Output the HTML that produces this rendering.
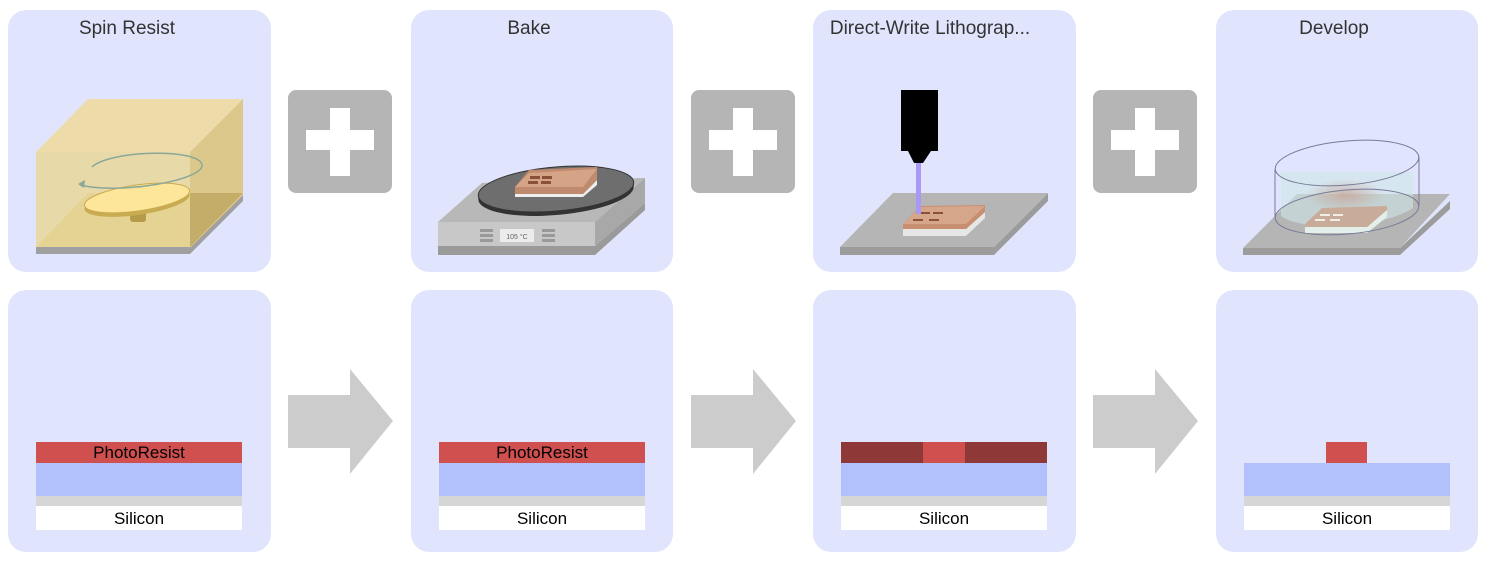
<!DOCTYPE html>
<html><head><meta charset="utf-8"><style>
html,body{margin:0;padding:0;background:#fff;width:1488px;height:561px;overflow:hidden}
svg{display:block}
text{font-family:"Liberation Sans","DejaVu Sans",sans-serif}
</style></head><body>
<svg width="1488" height="561" viewBox="0 0 1488 561">
<defs>
<radialGradient id="glow" cx="50%" cy="50%" r="50%"><stop offset="0" stop-color="#c8a090" stop-opacity="0.7"/><stop offset="1" stop-color="#c8a090" stop-opacity="0"/></radialGradient>
</defs>
<!-- panels -->
<g fill="#e0e5fd">
<rect x="8" y="10" width="263" height="262" rx="18"/>
<rect x="411" y="10" width="262" height="262" rx="18"/>
<rect x="813" y="10" width="263" height="262" rx="18"/>
<rect x="1216" y="10" width="262" height="262" rx="18"/>
<rect x="8" y="290" width="263" height="262" rx="18"/>
<rect x="411" y="290" width="262" height="262" rx="18"/>
<rect x="813" y="290" width="263" height="262" rx="18"/>
<rect x="1216" y="290" width="262" height="262" rx="18"/>
</g>
<g font-size="19" fill="#333" text-anchor="middle">
<text x="127" y="34">Spin Resist</text>
<text x="529" y="34">Bake</text>
<text x="930" y="34">Direct-Write Lithograp...</text>
<text x="1334" y="34">Develop</text>
</g>
<!-- plus boxes -->
<g>
<g transform="translate(288,90)"><rect width="104" height="103" rx="8" fill="#b5b5b5"/><rect x="18" y="40" width="68" height="20" fill="#fff"/><rect x="42" y="18" width="20" height="68" fill="#fff"/></g>
<g transform="translate(691,90)"><rect width="104" height="103" rx="8" fill="#b5b5b5"/><rect x="18" y="40" width="68" height="20" fill="#fff"/><rect x="42" y="18" width="20" height="68" fill="#fff"/></g>
<g transform="translate(1093,90)"><rect width="104" height="103" rx="8" fill="#b5b5b5"/><rect x="18" y="40" width="68" height="20" fill="#fff"/><rect x="42" y="18" width="20" height="68" fill="#fff"/></g>
</g>
<!-- arrows -->
<g fill="#cccccc">
<polygon points="288,395 350,395 350,369 393,421 350,474 350,448 288,448"/>
<polygon points="691,395 753,395 753,369 796,421 753,474 753,448 691,448"/>
<polygon points="1093,395 1155,395 1155,369 1198,421 1155,474 1155,448 1093,448"/>
</g>
<!-- spin illustration -->
<g>
<polygon points="36,247 190,247 243,195 243,201 190,254 36,254" fill="#a0a0a0"/>
<polygon points="36,247 88,193 243,193 190,247" fill="#d2bd72"/>
<polygon points="36,152 190,152 190,247 36,247" fill="#e9d79a" opacity="0.85"/>
<polygon points="36,152 88,99 243,99 190,152" fill="#eddcaa"/>
<polygon points="190,152 243,99 243,195 190,248" fill="#dcc88a"/>
<polygon points="190,193 243,193 190,247" fill="#c4ad68"/>
<rect x="130" y="206" width="16" height="16" rx="3" fill="#b59a4a"/>
<ellipse cx="137" cy="202" rx="53" ry="13" transform="rotate(-8 137 202)" fill="#c9ac52"/>
<ellipse cx="137" cy="198" rx="53" ry="13" transform="rotate(-8 137 198)" fill="#fde59a" stroke="#c9ac52"/>
<path d="M92,167 C110,150 200,148 202,165 C204,180 120,195 80,185" fill="none" stroke="#8aa898" stroke-width="1.5"/>
<polygon points="78,184 85,180 84,188" fill="#8aa898"/>
</g>
<!-- bake illustration -->
<g>
<polygon points="438,246 595,246 645,203 645,210 595,255 438,255" fill="#9a9a9a"/>
<polygon points="438,222 482,183 645,178 645,203 595,246 438,246" fill="#c5c5c5"/>
<polygon points="595,222 645,178 645,203 595,246" fill="#a8a8a8"/>
<polygon points="438,222 482,183 645,178 595,222" fill="#b8b8b8"/>
<rect x="438" y="222" width="157" height="24" fill="#c8c8c8"/>
<rect x="500" y="229" width="34" height="13" fill="#ececec"/>
<text x="517" y="239" font-size="7" fill="#666" text-anchor="middle">105 °C</text>
<g fill="#999"><rect x="480" y="229" width="13" height="3"/><rect x="480" y="234" width="13" height="3"/><rect x="480" y="239" width="13" height="3"/><rect x="542" y="229" width="13" height="3"/><rect x="542" y="234" width="13" height="3"/><rect x="542" y="239" width="13" height="3"/></g>
<ellipse cx="556" cy="193" rx="78" ry="22" transform="rotate(-5 556 193)" fill="#333"/>
<ellipse cx="556" cy="189" rx="78" ry="22" transform="rotate(-5 556 189)" fill="#6e6e6e" stroke="#333"/>
<polygon points="515,194 583,194 597,180 597,185 583,197 515,197" fill="#eee"/>
<polygon points="515,187 529,170 597,167 597,180 583,194 515,194" fill="#c08a6e"/>
<polygon points="515,187 529,173 597,169 583,187" fill="#d5a486"/>
<g fill="#8a5038"><rect x="530" y="176" width="10" height="3"/><rect x="542" y="176" width="10" height="3"/><rect x="528" y="181" width="10" height="3"/><rect x="541" y="181" width="10" height="3"/></g>
</g>
<!-- direct write illustration -->
<g>
<polygon points="840,247 994,247 1048,193 1048,201 994,255 840,255" fill="#9c9c9c"/>
<polygon points="840,247 893,193 1048,193 994,247" fill="#b5b5b5"/>
<polygon points="903,229 966,229 985,212 985,218 966,236 903,236" fill="#e6e6e6"/>
<polygon points="903,224 920,206 985,205 985,212 966,229 903,229" fill="#c88e70"/>
<polygon points="903,224 920,207 985,206 966,224" fill="#d6a68a"/>
<g fill="#8a5038"><rect x="920" y="212" width="10" height="2"/><rect x="933" y="212" width="10" height="2"/><rect x="913" y="219" width="10" height="2"/><rect x="929" y="219" width="10" height="2"/></g>
<rect x="916" y="160" width="5" height="54" fill="#a898f8"/>
<rect x="901" y="90" width="37" height="61" fill="#000"/>
<polygon points="908,151 931,151 923,163 914,163" fill="#000"/>
</g>
<!-- develop illustration -->
<g>
<polygon points="1243,248 1400,248 1450,201 1450,194 1450,209 1400,255 1243,255" fill="#9c9c9c"/>
<polygon points="1243,248 1297,194 1450,194 1400,248" fill="#b5b5b5"/>
<path d="M1281,172 L1281,216 A72,22 -5 0 0 1413,208 L1413,172 Z" fill="#cfe6ea" opacity="0.6"/>
<ellipse cx="1345" cy="195" rx="40" ry="16" fill="url(#glow)"/>
<polygon points="1305,227 1367,227 1387,210 1387,217 1367,233 1305,233" fill="#e2efea"/>
<polygon points="1305,224 1322,208 1387,206 1387,210 1367,227 1305,227" fill="#c8ab98"/>
<g fill="#f2eee6"><rect x="1320" y="214" width="10" height="2"/><rect x="1333" y="214" width="10" height="2"/><rect x="1315" y="219" width="10" height="2"/><rect x="1330" y="219" width="10" height="2"/></g>
<ellipse cx="1347" cy="212" rx="72" ry="22" transform="rotate(-5 1347 212)" fill="none" stroke="#777b95" stroke-width="1"/>
<ellipse cx="1347" cy="163" rx="72" ry="22" transform="rotate(-5 1347 163)" fill="none" stroke="#777b95" stroke-width="1"/>
<line x1="1275" y1="169" x2="1275" y2="218" stroke="#777b95"/>
<line x1="1419" y1="156" x2="1419" y2="206" stroke="#777b95"/>
</g>
<!-- cross sections -->
<g font-size="17" fill="#000" text-anchor="middle">
<g>
<rect x="36" y="442" width="206" height="21" fill="#d05050"/><text x="139" y="458">PhotoResist</text>
<rect x="36" y="463" width="206" height="33" fill="#b2c1fb"/>
<rect x="36" y="496" width="206" height="10" fill="#d6d6d6"/>
<rect x="36" y="506" width="206" height="24" fill="#fff"/><text x="139" y="524">Silicon</text>
</g>
<g>
<rect x="439" y="442" width="206" height="21" fill="#d05050"/><text x="542" y="458">PhotoResist</text>
<rect x="439" y="463" width="206" height="33" fill="#b2c1fb"/>
<rect x="439" y="496" width="206" height="10" fill="#d6d6d6"/>
<rect x="439" y="506" width="206" height="24" fill="#fff"/><text x="542" y="524">Silicon</text>
</g>
<g>
<rect x="841" y="442" width="206" height="21" fill="#8f3838"/>
<rect x="923" y="442" width="42" height="21" fill="#d05050"/>
<rect x="841" y="463" width="206" height="33" fill="#b2c1fb"/>
<rect x="841" y="496" width="206" height="10" fill="#d6d6d6"/>
<rect x="841" y="506" width="206" height="24" fill="#fff"/><text x="944" y="524">Silicon</text>
</g>
<g>
<rect x="1326" y="442" width="41" height="21" fill="#d05050"/>
<rect x="1244" y="463" width="206" height="33" fill="#b2c1fb"/>
<rect x="1244" y="496" width="206" height="10" fill="#d6d6d6"/>
<rect x="1244" y="506" width="206" height="24" fill="#fff"/><text x="1347" y="524">Silicon</text>
</g>
</g>
</svg>
</body></html>
